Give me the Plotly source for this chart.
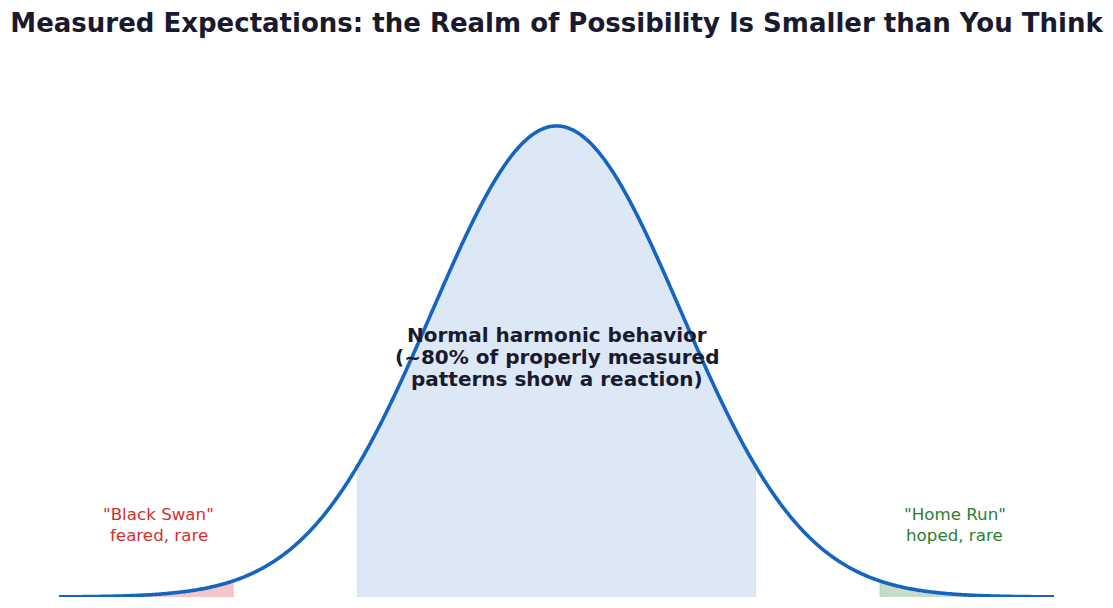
import numpy as np
import plotly.graph_objects as go

# Data
x_min, x_max = -4.0, 4.0
center_lo, center_hi = -1.6, 1.6
left_tail_hi = -2.6
right_tail_lo = 2.6

title_text = "Measured Expectations: the Realm of Possibility Is Smaller than You Think"
center_lines = ["Normal harmonic behavior", "(~80% of properly measured", "patterns show a reaction)"]
left_lines = ["\"Black Swan\"", "feared, rare"]
right_lines = ["\"Home Run\"", "hoped, rare"]

x = np.linspace(x_min, x_max, 801)
pdf = np.exp(-x**2 / 2) / np.sqrt(2 * np.pi)

Y_TOP = 0.4548
H, T, B = 608, 60, 11


def py2y(py):
    return (H - B - py) / (H - B - T) * Y_TOP


def region(a, b):
    m = (x >= a - 1e-9) & (x <= b + 1e-9)
    xs = np.concatenate([[a], x[m], [b]])
    ys = np.concatenate([[0], np.exp(-x[m]**2 / 2) / np.sqrt(2 * np.pi), [0]])
    return xs, ys


fig = go.Figure()

for (a, b), fillc, linec in [
    ((center_lo, center_hi), "rgba(21,101,192,0.15)", "rgba(21,101,192,0.12)"),
    ((x_min, left_tail_hi), "rgba(211,47,47,0.27)", "rgba(211,47,47,0.2)"),
    ((right_tail_lo, x_max), "rgba(46,125,50,0.27)", "rgba(46,125,50,0.2)"),
]:
    xs, ys = region(a, b)
    fig.add_trace(go.Scatter(x=xs, y=ys, mode="lines", fill="toself",
                             fillcolor=fillc, line=dict(color=linec, width=1, simplify=False),
                             hoverinfo="skip", showlegend=False))

fig.add_trace(go.Scatter(x=x, y=pdf, mode="lines",
                         line=dict(color="#1565c0", width=3.6, simplify=False),
                         showlegend=False))

font_family = "DejaVu Sans"
for line, py in zip(center_lines, [335, 357, 379]):
    fig.add_annotation(x=0, y=py2y(py), text=line, showarrow=False,
                       font=dict(family=font_family, size=20, color="#1a1a2e", weight="bold"),
                       xanchor="center", yanchor="middle", align="center")
for line, py in zip(left_lines, [514, 535]):
    fig.add_annotation(x=-3.2, y=py2y(py), text=line, showarrow=False,
                       font=dict(family=font_family, size=16.7, color="#d32f2f"),
                       xanchor="center", yanchor="middle", align="center")
for line, py in zip(right_lines, [514, 535]):
    fig.add_annotation(x=3.2, y=py2y(py), text=line, showarrow=False,
                       font=dict(family=font_family, size=16.7, color="#2e7d32"),
                       xanchor="center", yanchor="middle", align="center")

fig.update_layout(
    width=1113, height=608,
    margin=dict(l=59, r=59, t=T, b=B),
    plot_bgcolor="white", paper_bgcolor="white",
    title=dict(text=title_text, x=0.5, xanchor="center", xref="paper",
               y=1 - 23 / 608, yref="container", yanchor="middle",
               font=dict(family=font_family, size=26, color="#1a1a2e", weight="bold")),
    xaxis=dict(range=[x_min, x_max], visible=False),
    yaxis=dict(range=[0, Y_TOP], visible=False),
)

fig.write_html("out.html")
